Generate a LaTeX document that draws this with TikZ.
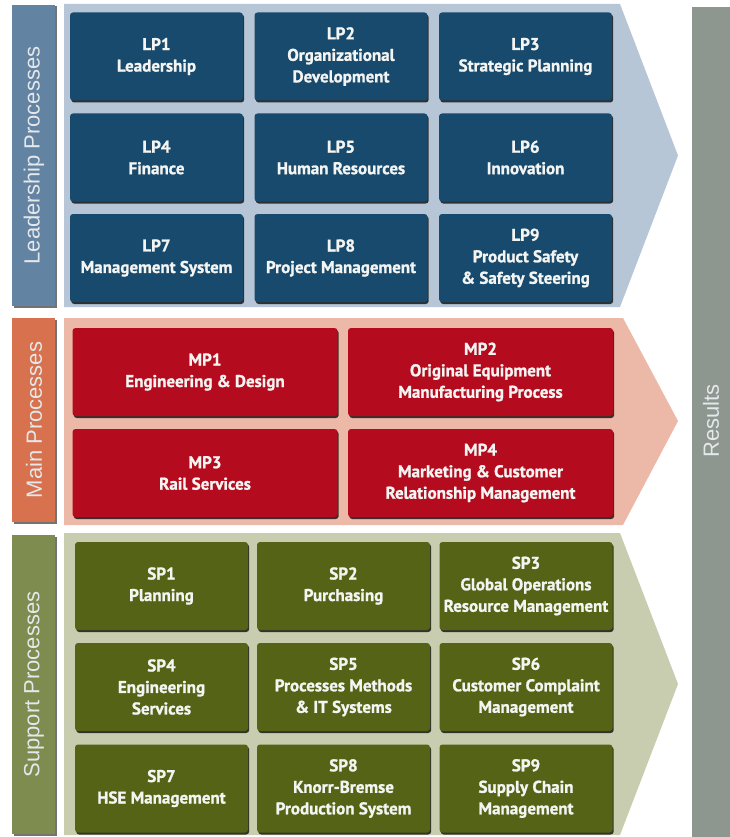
\documentclass[tikz,border=0pt]{standalone}
\usepackage{fontspec}
\setmainfont{Liberation Sans}
\newfontfamily\boxfont[BoldFeatures={FakeBold=1.2}]{PT Sans}
\usetikzlibrary{shadows}
\definecolor{lpbox}{HTML}{174A6C}
\definecolor{lppanel}{HTML}{B6C6D6}
\definecolor{lplabel}{HTML}{6383A3}
\definecolor{mpbox}{HTML}{B40C1E}
\definecolor{mppanel}{HTML}{ECB9A8}
\definecolor{mplabel}{HTML}{D8714E}
\definecolor{spbox}{HTML}{546316}
\definecolor{sppanel}{HTML}{C9CDAF}
\definecolor{splabel}{HTML}{7F8C50}
\definecolor{resbar}{HTML}{8E9690}
\definecolor{boxtext}{HTML}{F4F4F2}
\definecolor{labtext}{HTML}{E4E8EA}
\tikzset{
  procbox/.style={rounded corners=3pt, inner sep=2pt, align=center,
    text=boxtext, font=\boxfont\bfseries\fontsize{17}{21.5}\selectfont,
    drop shadow={shadow xshift=1.2pt, shadow yshift=-2pt, fill=black, opacity=0.75}},
  lpb/.style={procbox, fill=lpbox, minimum width=173pt, minimum height=88pt},
  mpb/.style={procbox, fill=mpbox, minimum width=265pt, minimum height=88pt},
  spb/.style={procbox, fill=spbox, minimum width=173pt, minimum height=88pt},
  sidetext/.style={rotate=90, text=labtext, font=\fontsize{22}{24}\selectfont},
  labshadow/.style={drop shadow={shadow xshift=1.5pt, shadow yshift=-1.5pt, fill=black, opacity=0.55}}
}
\begin{document}
\begin{tikzpicture}[x=1pt,y=-1pt]
\useasboundingbox (0,0) rectangle (730,837);
\fill[white] (0,0) rectangle (730,837);
% Results bar
\fill[resbar] (692,7) rectangle (730,837);
\node[sidetext] (res) at (711,421) {Results};
% panels
\fill[lppanel] (64,4) -- (620,4) -- (678,155.5) -- (620,307) -- (64,307) -- cycle;
\fill[mppanel] (64,318) -- (623,318) -- (678,421) -- (623,525) -- (64,525) -- cycle;
\fill[sppanel] (64,533) -- (620,533) -- (678,684) -- (620,835) -- (64,835) -- cycle;
% side labels
\path[fill=lplabel, labshadow] (12,5) rectangle (55,306);
\node[sidetext] (lplab) at (34,155.5) {Leadership Processes};
\path[fill=mplabel, labshadow] (12,318) rectangle (55,522);
\node[sidetext] (mplab) at (34,420) {Main Processes};
\path[fill=splabel, labshadow] (12,535) rectangle (55,834);
\node[sidetext] (splab) at (34,684.5) {Support Processes};
% Leadership processes
\node[lpb] (lp1) at (156.5,56.5) {LP1\\Leadership};
\node[lpb] (lp2) at (341,56.5) {LP2\\Organizational\\Development};
\node[lpb] (lp3) at (525.5,56.5) {LP3\\Strategic Planning};
\node[lpb] (lp4) at (156.5,157.5) {LP4\\Finance};
\node[lpb] (lp5) at (341,157.5) {LP5\\Human Resources};
\node[lpb] (lp6) at (525.5,157.5) {LP6\\Innovation};
\node[lpb] (lp7) at (156.5,258) {LP7\\Management System};
\node[lpb] (lp8) at (341,258) {LP8\\Project Management};
\node[lpb] (lp9) at (525.5,258) {LP9\\Product Safety\\\& Safety Steering};
% Main processes
\node[mpb] (mp1) at (205,372) {MP1\\Engineering \& Design};
\node[mpb] (mp2) at (480.5,372) {MP2\\Original Equipment\\Manufacturing Process};
\node[mpb] (mp3) at (205,473) {MP3\\Rail Services};
\node[mpb] (mp4) at (480.5,473) {MP4\\Marketing \& Customer\\Relationship Management};
% Support processes
\node[spb] (sp1) at (161.5,586) {SP1\\Planning};
\node[spb] (sp2) at (343.5,586) {SP2\\Purchasing};
\node[spb] (sp3) at (526,586) {SP3\\Global Operations\\Resource Management};
\node[spb] (sp4) at (161.5,687) {SP4\\Engineering\\Services};
\node[spb] (sp5) at (343.5,687) {SP5\\Processes Methods\\\& IT Systems};
\node[spb] (sp6) at (526,687) {SP6\\Customer Complaint\\Management};
\node[spb] (sp7) at (161.5,788.5) {SP7\\HSE Management};
\node[spb] (sp8) at (343.5,788.5) {SP8\\Knorr-Bremse\\Production System};
\node[spb] (sp9) at (526,788.5) {SP9\\Supply Chain\\Management};
\end{tikzpicture}
\end{document}
